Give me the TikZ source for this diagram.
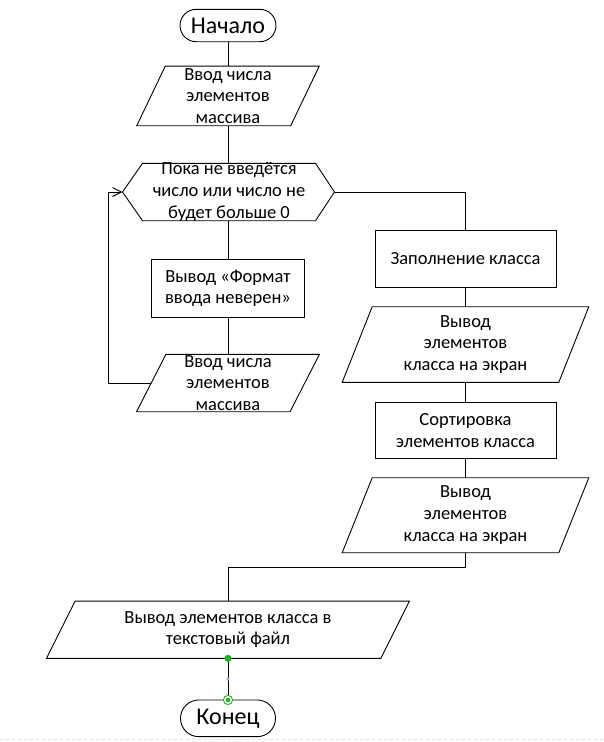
\documentclass[tikz,border=0pt]{standalone}
\usepackage{fontspec}
\setmainfont{Carlito}
\usetikzlibrary{arrows.meta,calc}
\definecolor{hgreen}{HTML}{1DB31D}
\definecolor{hblue}{HTML}{8AAEE8}
\begin{document}
\begin{tikzpicture}[x=1pt,y=-1pt,line width=0.9pt,
  base/.style={inner sep=0pt,outer sep=0pt},
  txt/.style={font=\fontsize{18.5}{21.7}\selectfont,align=center,inner sep=0pt,text=black},
  term/.style={base,draw,rectangle,font=\fontsize{24}{28}\selectfont},
  box/.style={base,draw,rectangle,txt},
  ghost/.style={base,rectangle},
  flowarrow/.style={-{Straight Barb[length=9pt,width=9pt,line width=0.9pt]}}
]
\useasboundingbox (0,0) rectangle (603,742);

% start
\node[term,minimum width=96pt,minimum height=32.4pt,rounded corners=16.2pt] (start) at (228,25.5) {Начало};

% input 1
\node[ghost,minimum width=154pt,minimum height=59.7pt,
  label={[txt]center:{Ввод числа\\элементов\\массива}}] (in1) at (228,95.9) {};
\draw ([xshift=14.3pt]in1.north west) -- ([xshift=14.3pt]in1.north east) -- ([xshift=-14.3pt]in1.south east) -- ([xshift=-14.3pt]in1.south west) -- cycle;

% loop hexagon
\node[ghost,minimum width=173pt,minimum height=57.4pt,
  label={[txt]center:{Пока не введётся\\число или число не\\будет больше 0}}] (loop) at (229,192) {};
\coordinate (loopL) at ([xshift=-20pt]loop.west);
\coordinate (loopR) at ([xshift=19pt]loop.east);
\draw (loop.north west) -- (loop.north east) -- (loopR) -- (loop.south east) -- (loop.south west) -- (loopL) -- cycle;

% error box
\node[box,minimum width=153.3pt,minimum height=58pt] (err) at (228,288.3) {Вывод «Формат\\ввода неверен»};

% input 2
\node[ghost,minimum width=153.5pt,minimum height=57.4pt,
  label={[txt]center:{Ввод числа\\элементов\\массива}}] (in2) at (228,383) {};
\draw ([xshift=14.7pt]in2.north west) -- ([xshift=14.7pt]in2.north east) -- ([xshift=-14.7pt]in2.south east) -- ([xshift=-14.7pt]in2.south west) -- cycle;

% right column
\node[box,minimum width=181pt,minimum height=56.6pt] (fill) at (465.5,259) {Заполнение класса};

\node[ghost,minimum width=216.6pt,minimum height=75.6pt,
  label={[txt]center:{Вывод\\элементов\\класса на экран}}] (out1) at (465.5,344.5) {};
\draw ([xshift=15pt]out1.north west) -- ([xshift=15pt]out1.north east) -- ([xshift=-15pt]out1.south east) -- ([xshift=-15pt]out1.south west) -- cycle;

\node[box,minimum width=181pt,minimum height=55.6pt] (sort) at (465.5,430.5) {Сортировка\\элементов класса};

\node[ghost,minimum width=216.6pt,minimum height=75pt,
  label={[txt]center:{Вывод\\элементов\\класса на экран}}] (out2) at (465.5,515.2) {};
\draw ([xshift=15pt]out2.north west) -- ([xshift=15pt]out2.north east) -- ([xshift=-15pt]out2.south east) -- ([xshift=-15pt]out2.south west) -- cycle;

% file output
\node[ghost,minimum width=334.3pt,minimum height=57.3pt,
  label={[txt]center:{Вывод элементов класса в\\текстовый файл}}] (file) at (228,629.7) {};
\draw ([xshift=14.3pt]file.north west) -- ([xshift=14.3pt]file.north east) -- ([xshift=-14.3pt]file.south east) -- ([xshift=-14.3pt]file.south west) -- cycle;

% end
\node[term,minimum width=95pt,minimum height=36.7pt,rounded corners=18.3pt] (end) at (228,718.3) {Конец};

% connectors
\draw (start.south) -- (in1.north);
\draw (in1.south) -- (in1.south |- loop.north);
\draw (in1.south |- loop.south) -- (err.north);
\draw (err.south) -- (in2.north);
\draw[flowarrow] (in2.west) -- ++(-43,0) |- (loopL);
\draw (loopR) -| (fill.north);
\draw (fill.south) -- (out1.north);
\draw (out1.south) -- (sort.north);
\draw (sort.south) -- (out2.north);
\draw (out2.south) -- ++(0,14.6) -| (file.north);
\draw (file.south) -- (end.north);

% selection handles
\fill[hgreen] (file.south) circle (3.6pt);
\fill[hblue] ($(file.south)!0.5!(end.north)$) circle (1.8pt);
\draw[hgreen,line width=0.9pt,fill=white] (end.north) circle (4.6pt);
\fill[hgreen] (end.north) circle (2.3pt);

% page border
\draw[black!12,dashed,line width=0.8pt] (0,739.8) -- (603,739.8);
\end{tikzpicture}
\end{document}
